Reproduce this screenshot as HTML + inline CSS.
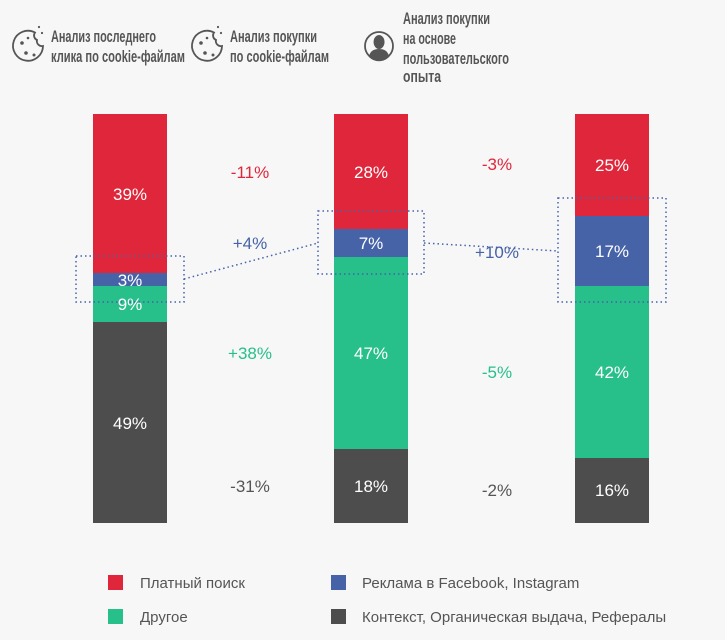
<!DOCTYPE html><html><head><meta charset="utf-8"><style>
body{margin:0;width:725px;height:640px;background:#f7f7f7;font-family:"Liberation Sans","DejaVu Sans",sans-serif;overflow:hidden}
svg{display:block}
</style></head><body>
<svg width="725" height="640" xmlns="http://www.w3.org/2000/svg" font-family="Liberation Sans, DejaVu Sans, sans-serif">
<g fill="none" stroke="#555" stroke-width="1.8">
<path d="M35 32.5 A15 15 0 1 0 43 46 A5 5 0 0 1 37 40 A5 5 0 0 1 35 32.5 Z"/>
<path d="M214 32.5 A15 15 0 1 0 222 46 A5 5 0 0 1 216 40 A5 5 0 0 1 214 32.5 Z"/>
</g>
<g fill="#555"><circle cx="22" cy="43" r="1.8"/><circle cx="26" cy="53" r="1.8"/><circle cx="34" cy="55" r="1.5"/><circle cx="28" cy="38" r="1.3"/><circle cx="39" cy="27" r="1.1"/><circle cx="42" cy="33" r="1.1"/>
<circle cx="201" cy="43" r="1.8"/><circle cx="205" cy="53" r="1.8"/><circle cx="213" cy="55" r="1.5"/><circle cx="207" cy="38" r="1.3"/><circle cx="218" cy="27" r="1.1"/><circle cx="221" cy="33" r="1.1"/></g>
<circle cx="379" cy="46" r="14" fill="none" stroke="#555" stroke-width="1.8"/>
<path d="M369 57 q1-8 10-8 q9 0 10 8 a14 14 0 0 1 -20 0z M379 35 a5.5 7 0 1 0 0.1 0z" fill="#555"/>
<g font-size="17" font-weight="bold" fill="#555">
<text x="51" y="42" textLength="105" lengthAdjust="spacingAndGlyphs">Анализ последнего</text><text x="51" y="62" textLength="134" lengthAdjust="spacingAndGlyphs">клика по cookie-файлам</text>
<text x="230" y="42" textLength="87" lengthAdjust="spacingAndGlyphs">Анализ покупки</text><text x="230" y="62" textLength="99" lengthAdjust="spacingAndGlyphs">по cookie-файлам</text>
<text x="403" y="24" textLength="87" lengthAdjust="spacingAndGlyphs">Анализ покупки</text><text x="403" y="44" textLength="53" lengthAdjust="spacingAndGlyphs">на основе</text><text x="403" y="64" textLength="106" lengthAdjust="spacingAndGlyphs">пользовательского</text><text x="403" y="82" textLength="38" lengthAdjust="spacingAndGlyphs">опыта</text>
</g>
<rect x="93" y="114" width="74" height="159" fill="#e0263a"/><rect x="93" y="273" width="74" height="13" fill="#4663a8"/><rect x="93" y="286" width="74" height="36" fill="#27bf8a"/><rect x="93" y="322" width="74" height="201" fill="#4d4d4d"/>
<rect x="334" y="114" width="74" height="115" fill="#e0263a"/><rect x="334" y="229" width="74" height="28" fill="#4663a8"/><rect x="334" y="257" width="74" height="192" fill="#27bf8a"/><rect x="334" y="449" width="74" height="74" fill="#4d4d4d"/>
<rect x="575" y="114" width="74" height="102" fill="#e0263a"/><rect x="575" y="216" width="74" height="70" fill="#4663a8"/><rect x="575" y="286" width="74" height="172" fill="#27bf8a"/><rect x="575" y="458" width="74" height="65" fill="#4d4d4d"/>
<g fill="none" stroke="#4663a8" stroke-width="1.5" stroke-dasharray="1.5 3">
<rect x="76" y="256" width="108" height="46"/><rect x="318" y="211" width="106" height="63"/><rect x="558" y="198" width="108" height="104"/>
<path d="M184 279 L318 243 M424 243 L558 251"/>
</g>
<g font-size="17" fill="#fff" text-anchor="middle">
<text x="130" y="200">39%</text><text x="130" y="286">3%</text><text x="130" y="310">9%</text><text x="130" y="429">49%</text>
<text x="371" y="178">28%</text><text x="371" y="249">7%</text><text x="371" y="359">47%</text><text x="371" y="492">18%</text>
<text x="612" y="171">25%</text><text x="612" y="257">17%</text><text x="612" y="378">42%</text><text x="612" y="496">16%</text>
</g>
<g font-size="17" text-anchor="middle">
<text x="250" y="178" fill="#e0263a">-11%</text><text x="250" y="249" fill="#4663a8">+4%</text><text x="250" y="359" fill="#27bf8a">+38%</text><text x="250" y="492" fill="#555">-31%</text>
<text x="497" y="170" fill="#e0263a">-3%</text><text x="497" y="258" fill="#4663a8">+10%</text><text x="497" y="378" fill="#27bf8a">-5%</text><text x="497" y="496" fill="#555">-2%</text>
</g>
<rect x="108" y="575" width="15" height="15" fill="#e0263a"/><rect x="108" y="609" width="15" height="15" fill="#27bf8a"/>
<rect x="331" y="575" width="15" height="15" fill="#4663a8"/><rect x="331" y="609" width="15" height="15" fill="#4d4d4d"/>
<g font-size="15" fill="#555"><text x="140" y="588">Платный поиск</text><text x="140" y="622">Другое</text><text x="362" y="588">Реклама в Facebook, Instagram</text><text x="362" y="622">Контекст, Органическая выдача, Рефералы</text></g>
</svg></body></html>
